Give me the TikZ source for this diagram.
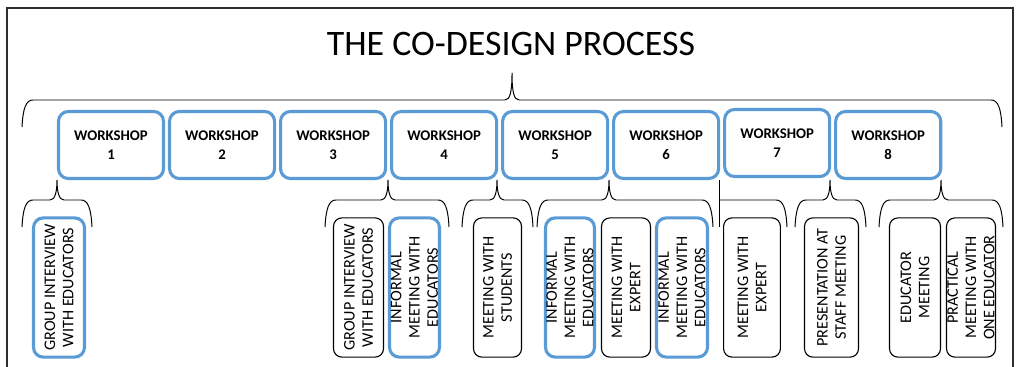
\documentclass[tikz,border=0pt]{standalone}
\usepackage{fontspec}
\setmainfont{Carlito}
\usepackage{tikz}
\usetikzlibrary{positioning}
\definecolor{wsblue}{RGB}{91, 155, 213}
\definecolor{framegray}{RGB}{45, 45, 45}

% upward curly brace: left x, tip x, right x, end y, bar y, tip y
\newcommand{\cobrace}[6]{%
  \draw[curl] (#1,#4) .. controls ({#1+1},{#5+8}) and ({#1+4},#5) .. ({#1+11},#5)
    -- ({#2-7},#5) .. controls ({#2-2},#5) and (#2,{#5-8}) .. (#2,#6)
    .. controls (#2,{#5-8}) and ({#2+2},#5) .. ({#2+7},#5)
    -- ({#3-11},#5) .. controls ({#3-4},#5) and ({#3-1},{#5+8}) .. (#3,#4);%
}

\tikzset{
  curl/.style={draw=black, line width=0.7pt},
  workshop/.style={draw=wsblue, line width=2.2pt, rounded corners=7pt, fill=white,
    outer sep=0pt, minimum width=2.625cm, minimum height=1.675cm, align=center,
    font=\bfseries\fontsize{10.5}{13.5}\selectfont},
  activity/.style={draw=black, line width=0.8pt, rounded corners=6pt, fill=white,
    rotate=90, minimum width=3.48cm, minimum height=1.25cm, inner sep=0pt,
    align=center, font=\fontsize{11.5}{13}\selectfont},
  keyactivity/.style={activity, draw=wsblue, line width=2.2pt, rounded corners=7pt}
}

\begin{document}
\begin{tikzpicture}[x=0.025cm, y=-0.025cm]
  \useasboundingbox (0,0) rectangle (1016,367);

  % Frame and title
  \draw[framegray, line width=1.4pt] (7,367) -- (7,8) -- (1013,8) -- (1013,367);
  \node[font=\fontsize{25.5}{30}\selectfont] (title) at (511,44) {THE CO-DESIGN PROCESS};

  % Braces
  \cobrace{22}{512}{1002}{127}{100}{73}
  \cobrace{22}{57}{92}{227}{200}{180}
  \cobrace{325}{388}{449}{227}{200}{180}
  \cobrace{462}{497}{533}{227}{200}{180}
  \cobrace{537}{609}{713}{227}{200}{180}
  \draw[curl] (719,180) -- (719,227);
  \draw[curl] (719,200) -- (776,200) .. controls (783,200) and (786,208) .. (787,227);
  \cobrace{795}{830}{866}{227}{200}{180}
  \cobrace{879}{941}{1003}{227}{200}{180}

  % Workshops
  \node[workshop] (ws1) at (111,145) {WORKSHOP\\1};
  \node[workshop, right=1.5mm of ws1] (ws2) {WORKSHOP\\2};
  \node[workshop, right=1.5mm of ws2] (ws3) {WORKSHOP\\3};
  \node[workshop, right=1.5mm of ws3] (ws4) {WORKSHOP\\4};
  \node[workshop, right=1.5mm of ws4] (ws5) {WORKSHOP\\5};
  \node[workshop, right=1.5mm of ws5] (ws6) {WORKSHOP\\6};
  \node[workshop, right=1.5mm of ws6, yshift=0.05cm] (ws7) {WORKSHOP\\7};
  \node[workshop, right=1.5mm of ws7, yshift=-0.05cm] (ws8) {WORKSHOP\\8};

  % Activities between workshops
  \node[keyactivity, minimum height=1.275cm] (groupa) at (59,287.5) {GROUP INTERVIEW\\WITH EDUCATORS};
  \node[activity] (groupb) at (358.5,287.5) {GROUP INTERVIEW\\WITH EDUCATORS};
  \node[keyactivity] (infoa) at (414.5,287.5) {INFORMAL\\MEETING WITH\\EDUCATORS};
  \node[activity, minimum height=1.2cm] (students) at (497.5,287.5) {MEETING WITH\\STUDENTS};
  \node[keyactivity, minimum height=1.225cm] (infob) at (570,287.5) {INFORMAL\\MEETING WITH\\EDUCATORS};
  \node[activity, minimum height=1.225cm] (experta) at (626,287.5) {MEETING WITH\\EXPERT};
  \node[keyactivity, minimum height=1.275cm] (infoc) at (682,287.5) {INFORMAL\\MEETING WITH\\EDUCATORS};
  \node[activity, minimum height=1.42cm] (expertb) at (752,287.5) {MEETING WITH\\EXPERT};
  \node[activity, minimum height=1.35cm] (staff) at (831.5,287.5) {PRESENTATION AT\\STAFF MEETING};
  \node[activity, minimum height=1.275cm] (educator) at (915,287.5) {EDUCATOR\\MEETING};
  \node[activity, minimum height=1.225cm] (practical) at (971,287.5) {PRACTICAL\\MEETING WITH\\ONE EDUCATOR};
\end{tikzpicture}
\end{document}
